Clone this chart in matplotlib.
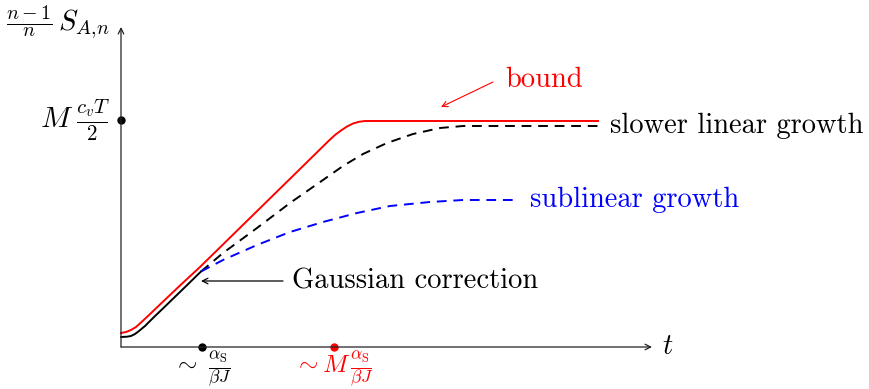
import matplotlib
matplotlib.use('Agg')
import matplotlib.pyplot as plt

plt.rcParams['mathtext.fontset'] = 'cm'
plt.rcParams['font.family'] = 'serif'
plt.rcParams['font.serif'] = ['cmr10', 'DejaVu Serif']
plt.rcParams['axes.unicode_minus'] = False

# curves (t, S in arbitrary units)
t_bound = [0, 0.05, 0.10, 0.15, 0.20, 0.27, 0.39, 0.59, 0.79, 1.29, 1.79, 2.08, 2.14, 2.20, 2.26, 2.32, 2.38, 2.44, 4.77]
s_bound = [0.14, 0.15, 0.17, 0.20, 0.245, 0.31, 0.425, 0.615, 0.80, 1.29, 1.78, 2.065, 2.12, 2.165, 2.205, 2.235, 2.252, 2.26, 2.26]

t_gauss = [0, 0.06, 0.10, 0.14, 0.18, 0.24, 0.32, 0.44, 0.60, 0.80]
s_gauss = [0.10, 0.103, 0.11, 0.13, 0.16, 0.21, 0.29, 0.405, 0.56, 0.755]

t_slow = [0.80, 1.02, 1.36, 1.69, 2.02, 2.22, 2.42, 2.66, 2.92, 3.19, 3.42, 4.77]
s_slow = [0.755, 0.94, 1.19, 1.44, 1.67, 1.81, 1.93, 2.04, 2.13, 2.19, 2.21, 2.21]

t_sub = [0.80, 1.02, 1.36, 1.69, 2.02, 2.36, 2.69, 3.09, 3.42, 3.96]
s_sub = [0.755, 0.87, 1.02, 1.15, 1.25, 1.34, 1.41, 1.45, 1.47, 1.47]

s_plateau = 2.27     # M c_v T / 2
t_short = 0.81       # ~ alpha_S / (beta J)
t_long = 2.13        # ~ M alpha_S / (beta J)

fig = plt.figure(figsize=(8.69, 3.89), dpi=100)
ax = fig.add_axes([0, 0, 1, 1])
ax.set_xlim(-1.21, 7.48)
ax.set_ylim(-0.42, 3.47)
ax.axis('off')

# axes with arrow heads
axis_arrow = dict(arrowstyle='->', lw=0.9, color='#222222', shrinkA=0, shrinkB=0)
ax.annotate('', xy=(5.31, 0), xytext=(0, 0), arrowprops=axis_arrow)
ax.annotate('', xy=(0, 3.20), xytext=(0, 0), arrowprops=axis_arrow)

ax.plot(t_gauss, s_gauss, color='black', lw=1.4, solid_capstyle='round')
ax.plot(t_slow, s_slow, color='black', lw=1.4, ls=(0, (5, 3.5)))
ax.plot(t_sub, s_sub, color='blue', lw=1.4, ls=(0, (5, 3.5)))
ax.plot(t_bound, s_bound, color='red', lw=1.4)

ax.plot([0], [s_plateau], 'o', color='black', ms=5)
ax.plot([t_short], [0], 'o', color='black', ms=5)
ax.plot([t_long], [0], 'o', color='red', ms=5)

fs = 20.5
ax.text(-0.11, s_plateau, r'$M\;\frac{c_vT}{2}$', fontsize=fs + 1, ha='right', va='center')
ax.text(-0.11, 3.25, r'$\frac{n-1}{n}\,S_{A,\!n}$', fontsize=fs, ha='right', va='center')
ax.text(5.41, 0, r'$t$', fontsize=fs, ha='left', va='center')
ax.text(t_short, -0.225, r'$\sim\ \frac{\alpha_{\rm S}}{\beta J}$', fontsize=18, ha='center', va='center')
ax.text(t_long, -0.225, r'$\sim M\,\frac{\alpha_{\rm S}}{\beta J}$', fontsize=18, ha='center', va='center', color='red')

ax.text(3.84, 2.67, 'bound', fontsize=fs, color='red', ha='left', va='center')
ax.annotate('', xy=(3.20, 2.40), xytext=(3.72, 2.65),
            arrowprops=dict(arrowstyle='->', lw=0.8, color='red', shrinkA=0, shrinkB=0))
ax.text(4.89, 2.21, 'slower linear growth', fontsize=fs, ha='left', va='center')
ax.text(4.09, 1.47, 'sublinear growth', fontsize=fs, color='blue', ha='left', va='center')
ax.text(1.71, 0.66, 'Gaussian correction', fontsize=fs, ha='left', va='center')
ax.annotate('', xy=(0.80, 0.66), xytext=(1.62, 0.66),
            arrowprops=dict(arrowstyle='->', lw=0.9, color='black', shrinkA=0, shrinkB=0))

fig.savefig('out.png', dpi=100)
